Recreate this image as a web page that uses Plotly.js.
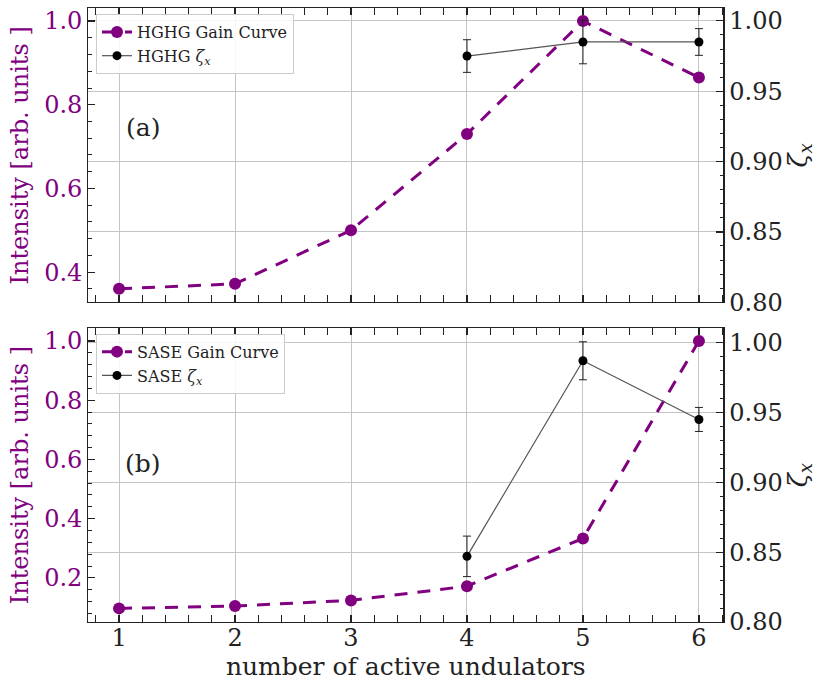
<!DOCTYPE html>
<html><head><meta charset="utf-8">
<script src="https://cdn.plot.ly/plotly-3.0.1.min.js"></script>
<style>html,body{margin:0;padding:0;background:#fff}</style>
</head><body><div id="chart" style="width:822px;height:681px"></div>
<script>
// ---- data ----
const units = [1, 2, 3, 4, 5, 6];
const zetaUnits = [4, 5, 6];
const hghgGain = [0.360, 0.372, 0.500, 0.730, 1.000, 0.865];
const hghgZeta = [0.975, 0.985, 0.985];
const hghgZetaErr = [0.0116, 0.0155, 0.0095];
const saseGain = [0.097, 0.105, 0.124, 0.172, 0.333, 1.000];
const saseZeta = [0.847, 0.987, 0.945];
const saseZetaErr = [0.0145, 0.0136, 0.0086];
const leftTitle = 'Intensity [arb. units ]';
const rightTitle = '<i>ζ<sub>x</sub></i>';
const xTitle = 'number of active undulators';

// ---- style ----
const purple = '#800080';
const ink = '#222222';
const FONT = 'DejaVu Serif, serif';

function gainTrace(y, name, xa, ya, lg) {
  return {x: units, y: y, xaxis: xa, yaxis: ya, name: name, legend: lg,
    mode: 'lines+markers', line: {color: purple, width: 3, dash: '13px,10px'},
    marker: {size: 12, color: purple}};
}
function zetaTrace(y, err, name, xa, ya, lg) {
  return {x: zetaUnits, y: y, xaxis: xa, yaxis: ya, name: name, legend: lg,
    mode: 'lines+markers', line: {color: '#555555', width: 1.2},
    marker: {size: 9, color: 'black'},
    error_y: {type: 'data', array: err, color: ink, thickness: 1, width: 4}};
}

const data = [
  gainTrace(hghgGain, 'HGHG Gain Curve', 'x2', 'y3', 'legend'),
  zetaTrace(hghgZeta, hghgZetaErr, 'HGHG ' + rightTitle, 'x2', 'y4', 'legend'),
  gainTrace(saseGain, 'SASE Gain Curve', 'x', 'y', 'legend2'),
  zetaTrace(saseZeta, saseZetaErr, 'SASE ' + rightTitle, 'x', 'y2', 'legend2')
];

const W = 822, H = 681, MB = 58.5, PH = H - MB;
const py = p => 1 - p / PH;   // pixel row -> plot-area fraction
const xDom = [88.3 / W, 723.3 / W];
const topDom = [py(302.5), py(8.5)];
const botDom = [0, py(328.5)];

function xAxis(anchor, showLabels) {
  return {domain: xDom, anchor: anchor, range: [0.735, 6.21],
    tick0: 1, dtick: 1, ticks: 'inside', ticklen: 7, tickwidth: 1.2, tickcolor: ink,
    showline: true, linecolor: ink, linewidth: 1.2, mirror: 'allticks',
    showgrid: true, gridcolor: '#c4c4c4', gridwidth: 1, zeroline: false,
    minor: {ticks: 'inside', ticklen: 3.5, tickwidth: 1, tickcolor: ink, dtick: 0.2, tick0: 1, showgrid: false},
    showticklabels: showLabels, ticklabelstandoff: -6,
    tickfont: {family: FONT, size: 24, color: ink}};
}
function leftAxis(dom, anchor, range) {
  return {domain: dom, anchor: anchor, range: range, tick0: 0, dtick: 0.2, tickformat: '.1f',
    ticks: 'inside', ticklen: 7, tickwidth: 1.2, tickcolor: ink,
    showline: true, linecolor: ink, linewidth: 1.2, mirror: false,
    showgrid: false, zeroline: false,
    minor: {ticks: 'inside', ticklen: 3.5, tickwidth: 1, tickcolor: ink, dtick: 0.04, tick0: 0, showgrid: false},
    tickfont: {family: FONT, size: 24, color: purple},
    title: {text: leftTitle, font: {family: FONT, size: 24, color: purple}, standoff: 8}};
}
function rightAxis(over, anchor, range) {
  return {overlaying: over, anchor: anchor, side: 'right', range: range,
    tick0: 0.8, dtick: 0.05, tickformat: '.2f',
    ticks: 'inside', ticklen: 7, tickwidth: 1.2, tickcolor: ink,
    showline: true, linecolor: ink, linewidth: 1.2,
    showgrid: true, gridcolor: '#c4c4c4', gridwidth: 1, zeroline: false,
    minor: {ticks: 'inside', ticklen: 3.5, tickwidth: 1, tickcolor: ink, dtick: 0.01, tick0: 0.8, showgrid: false},
    tickfont: {family: FONT, size: 24, color: ink},
    title: {text: rightTitle, font: {family: FONT, size: 26, color: ink}, standoff: 6}};
}

const legendStyle = {xanchor: 'left', yanchor: 'top', bgcolor: 'rgba(255,255,255,0.85)',
  bordercolor: '#cccccc', borderwidth: 1, font: {family: FONT, size: 16, color: ink},
  tracegroupgap: 0, itemwidth: 30};

const layout = {
  width: W, height: H, autosize: false,
  margin: {l: 0, r: 0, t: 0, b: MB},
  paper_bgcolor: '#ffffff', plot_bgcolor: '#ffffff',
  showlegend: true,
  xaxis: Object.assign(xAxis('y', true), {title: {text: xTitle, font: {family: FONT, size: 25, color: ink}, standoff: 2}}),
  xaxis2: Object.assign(xAxis('y3', false), {matches: 'x'}),
  yaxis: leftAxis(botDom, 'x', [0.051, 1.043]),
  yaxis2: rightAxis('y', 'x', [0.80, 1.0103]),
  yaxis3: leftAxis(topDom, 'x2', [0.328, 1.030]),
  yaxis4: rightAxis('y3', 'x2', [0.80, 1.0088]),
  legend: Object.assign({x: 96 / W, y: py(14)}, legendStyle),
  legend2: Object.assign({x: 96 / W, y: py(334)}, legendStyle),
  annotations: [
    {text: '(a)', xref: 'paper', yref: 'paper', x: 143 / W, y: py(128), showarrow: false,
     xanchor: 'center', yanchor: 'middle', font: {family: FONT, size: 25, color: ink}},
    {text: '(b)', xref: 'paper', yref: 'paper', x: 143 / W, y: py(464), showarrow: false,
     xanchor: 'center', yanchor: 'middle', font: {family: FONT, size: 25, color: ink}}
  ]
};

Plotly.newPlot('chart', data, layout, {displayModeBar: false, staticPlot: true});
</script>
</body></html>
